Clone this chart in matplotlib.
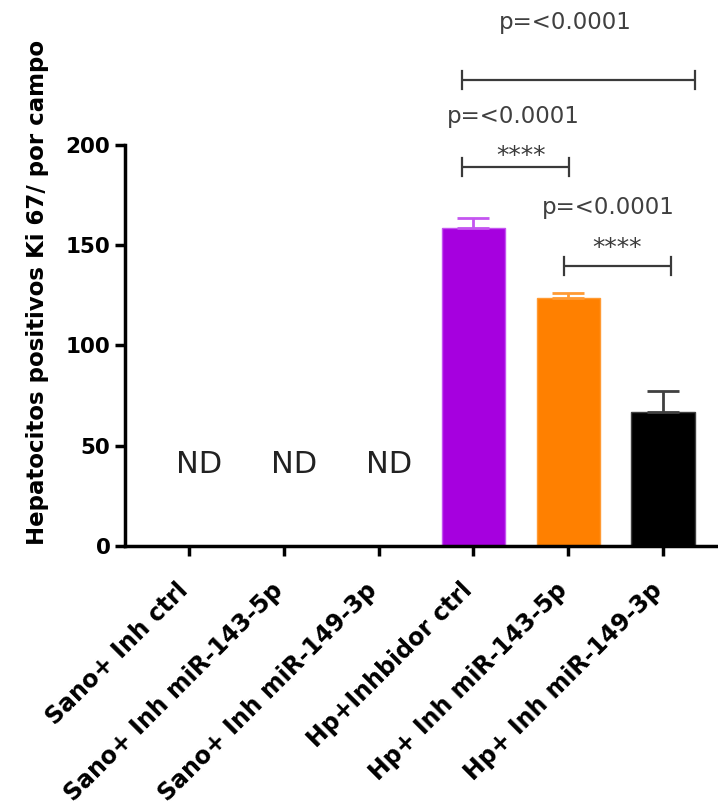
import matplotlib
matplotlib.use('Agg')
import matplotlib.pyplot as plt

# data
groups = ['Sano+ Inh ctrl', 'Sano+ Inh miR-143-5p', 'Sano+ Inh miR-149-3p',
          'Hp+Inhbidor ctrl', 'Hp+ Inh miR-143-5p', 'Hp+ Inh miR-149-3p']
means = [0, 0, 0, 158.5, 123.8, 66.8]
sem = [0, 0, 0, 5.0, 2.5, 10.5]
detected = [False, False, False, True, True, True]
bar_colors = ['#A600DF', '#A600DF', '#A600DF', '#A600DF', '#FF8000', '#000000']
err_colors = ['#C455F0', '#C455F0', '#C455F0', '#C455F0', '#FF9A33', '#404040']

# comparisons: left x, right x, bracket y, p text (x, y), stars (x, y)
comparisons = [
    (2.88, 5.34, 232.5, 'p=<0.0001', 3.97, 261.3, '', 0, 0),
    (2.88, 4.01, 189.0, 'p=<0.0001', 3.42, 214.0, '****', 3.50, 194.5),
    (3.95, 5.08, 139.5, 'p=<0.0001', 4.42, 168.6, '****', 4.51, 148.5),
]

fig = plt.figure(figsize=(7.18, 8.11), dpi=100)
ax = fig.add_axes([0.1741, 0.3268, 0.826, 0.4945])

x = list(range(len(groups)))
for i in x:
    if not detected[i]:
        ax.text(i + 0.11, 40.4, 'ND', ha='center', va='center', fontsize=22,
                color='#222222')
        continue
    ax.bar(i, means[i], width=0.67, color=bar_colors[i],
           edgecolor=err_colors[i], linewidth=1.0, zorder=2)
    ax.errorbar(i, means[i], yerr=[[0], [sem[i]]], fmt='none',
                ecolor=err_colors[i], elinewidth=2, capsize=11.5, capthick=2,
                zorder=3)

# significance brackets
gray = '#3a3a3a'
for x0, x1, yb, ptxt, px, py, stars, sx, sy in comparisons:
    ax.plot([x0, x1], [yb, yb], color=gray, lw=1.6, clip_on=False,
            solid_capstyle='butt')
    for xe in (x0, x1):
        ax.plot([xe, xe], [yb - 4.5, yb + 4.5], color=gray, lw=1.6,
                clip_on=False)
    ax.text(px, py, ptxt, ha='center', va='center', fontsize=16.5,
            color='#404040', clip_on=False)
    if stars:
        ax.text(sx, sy, stars, ha='center', va='center', fontsize=18,
                color=gray, clip_on=False)

ax.set_ylim(0, 200)
ax.set_xlim(-0.675, 5.58)
ax.set_yticks([0, 50, 100, 150, 200])
ax.set_xticks(x)
ax.set_xticklabels(groups, rotation=45, ha='right', va='baseline',
                   rotation_mode='anchor', fontsize=17, fontweight='bold')
for lab in ax.get_yticklabels():
    lab.set_fontsize(15.5)
    lab.set_fontweight('bold')

ax.spines['top'].set_visible(False)
ax.spines['right'].set_visible(False)
ax.spines['left'].set_linewidth(2.5)
ax.spines['bottom'].set_linewidth(2.5)
ax.tick_params(axis='both', width=2.5, length=7, color='black')
ax.tick_params(axis='x', pad=26)

ax.set_ylabel('Hepatocitos positivos Ki 67/ por campo', fontsize=16.5,
              fontweight='bold')
ax.yaxis.label.set_va('center')
ax.yaxis.set_label_coords(-0.148, 0.633)

fig.savefig('out.png', dpi=100)
